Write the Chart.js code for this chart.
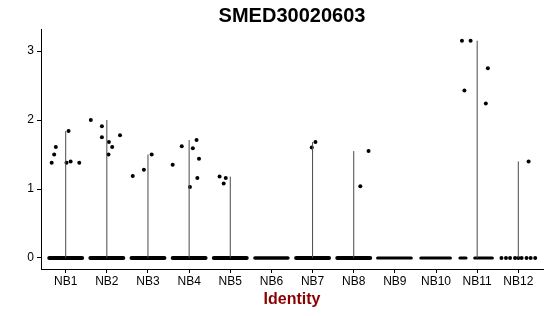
<!DOCTYPE html>
<html>
<head>
<meta charset="utf-8">
<script src="https://cdn.jsdelivr.net/npm/chart.js@4/dist/chart.umd.min.js"></script>
<style>
  html, body { margin: 0; padding: 0; background: #fff; }
  #wrap { width: 550px; height: 316px; }
</style>
</head>
<body>
<div id="wrap"><canvas id="c" width="550" height="316"></canvas></div>
<script>
// ---- data ----
const categories = ['NB1','NB2','NB3','NB4','NB5','NB6','NB7','NB8','NB9','NB10','NB11','NB12'];
const yTicks = [0, 1, 2, 3];

// expression values of the non-zero cells per identity
const nonzeroValues = [
  [1.50, 1.61, 1.84, 1.38, 1.38, 1.40, 1.38],
  [2.00, 1.91, 1.75, 1.68, 1.61, 1.50, 1.78],
  [1.50, 1.19, 1.28],
  [1.35, 1.62, 1.59, 1.71, 1.44, 1.03, 1.16],
  [1.18, 1.08, 1.16],
  [],
  [1.60, 1.68],
  [1.55, 1.04],
  [],
  [],
  [3.15, 3.15, 2.75, 2.43, 2.24],
  [1.40]
];
// horizontal jitter of those cells (category units)
const nonzeroJitter = [
  [-0.28, -0.24, 0.07, -0.34, 0.02, 0.12, 0.33],
  [-0.39, -0.12, -0.12, 0.05, 0.13, 0.04, 0.32],
  [0.09, -0.37, -0.10],
  [-0.40, -0.18, 0.09, 0.18, 0.24, 0.02, 0.20],
  [-0.26, -0.16, -0.11],
  [],
  [-0.02, 0.07],
  [0.36, 0.16],
  [],
  [],
  [-0.37, -0.16, 0.26, -0.31, 0.21],
  [0.25]
];
// spans covered by the jittered zero-valued cells (category units)
const zeroSpans = [
  [[-0.40, 0.40]],
  [[-0.40, 0.40]],
  [[-0.40, 0.40]],
  [[-0.40, 0.40]],
  [[-0.40, 0.40]],
  [[-0.40, 0.40]],
  [[-0.40, 0.40]],
  [[-0.40, 0.40]],
  [[-0.42, 0.40]],
  [[-0.37, 0.35]],
  [[-0.42, -0.27], [-0.06, 0.37]],
  []
];
// individually visible zero-valued cells (category units)
const zeroDots = [
  [], [], [], [], [], [], [], [], [], [], [],
  [-0.41, -0.30, -0.20, -0.08, 0.0, 0.08, 0.20, 0.30, 0.41]
];
const zeroSpanDensity = [4, 4, 4, 4, 4, 3.5, 4, 4, 3, 3, 3, 0];

// ---- build datasets ----
const datasets = [];
categories.forEach((c, i) => {
  const x = i + 1;
  const top = Math.max(0, ...nonzeroValues[i]);
  if (top > 0) {
    datasets.push({
      type: 'line', data: [{x: x, y: 0}, {x: x, y: top}],
      borderColor: '#4a4a4a', borderWidth: 1, pointRadius: 0, showLine: true
    });
  }
  zeroSpans[i].forEach(([a, b]) => {
    datasets.push({
      type: 'line', data: [{x: x + a, y: 0}, {x: x + b, y: 0}],
      borderColor: '#000', borderWidth: zeroSpanDensity[i], borderCapStyle: 'round',
      pointRadius: 0, showLine: true
    });
  });
});
const pts = [];
categories.forEach((c, i) => {
  nonzeroValues[i].forEach((v, k) => pts.push({x: i + 1 + nonzeroJitter[i][k], y: v}));
  zeroDots[i].forEach(d => pts.push({x: i + 1 + d, y: 0}));
});
datasets.push({
  type: 'scatter', data: pts, backgroundColor: '#000', borderColor: '#000',
  pointRadius: 2, pointBorderWidth: 0, showLine: false
});

const FONT = "'Liberation Sans', Arial, sans-serif";

new Chart(document.getElementById('c'), {
  type: 'scatter',
  data: { datasets },
  options: {
    responsive: false,
    animation: false,
    devicePixelRatio: 1,
    layout: { padding: { left: 0, right: 7, top: 0, bottom: 0 } },
    plugins: {
      legend: { display: false },
      tooltip: { enabled: false },
      title: {
        display: true, text: 'SMED30020603', fullSize: false,
        color: '#000', font: { family: FONT, size: 20, weight: 'bold' },
        padding: { top: 4, bottom: 1 }
      }
    },
    scales: {
      x: {
        type: 'linear', min: 0.4, max: 12.6,
        afterBuildTicks: s => { s.ticks = categories.map((c, i) => ({ value: i + 1 })); },
        afterFit: s => { s.height = 47; },
        ticks: {
          color: '#000', font: { family: FONT, size: 12 }, padding: 1,
          callback: v => categories[Math.round(v) - 1]
        },
        grid: { display: true, drawOnChartArea: false, drawTicks: true, tickLength: 4, color: '#000', lineWidth: 1 },
        border: { display: true, color: '#000', width: 1 },
        title: {
          display: true, text: 'Identity', color: '#8B0000',
          font: { family: FONT, size: 16, weight: 'bold' }, padding: { top: 0, bottom: 7 }
        }
      },
      y: {
        type: 'linear', min: -0.16, max: 3.32,
        afterBuildTicks: s => { s.ticks = yTicks.map(v => ({ value: v })); },
        afterFit: s => { s.width = 41; },
        ticks: { color: '#000', font: { family: FONT, size: 12 }, padding: 3 },
        grid: { display: true, drawOnChartArea: false, drawTicks: true, tickLength: 4, color: '#000', lineWidth: 1 },
        border: { display: true, color: '#000', width: 1 }
      }
    }
  }
});
</script>
</body>
</html>
